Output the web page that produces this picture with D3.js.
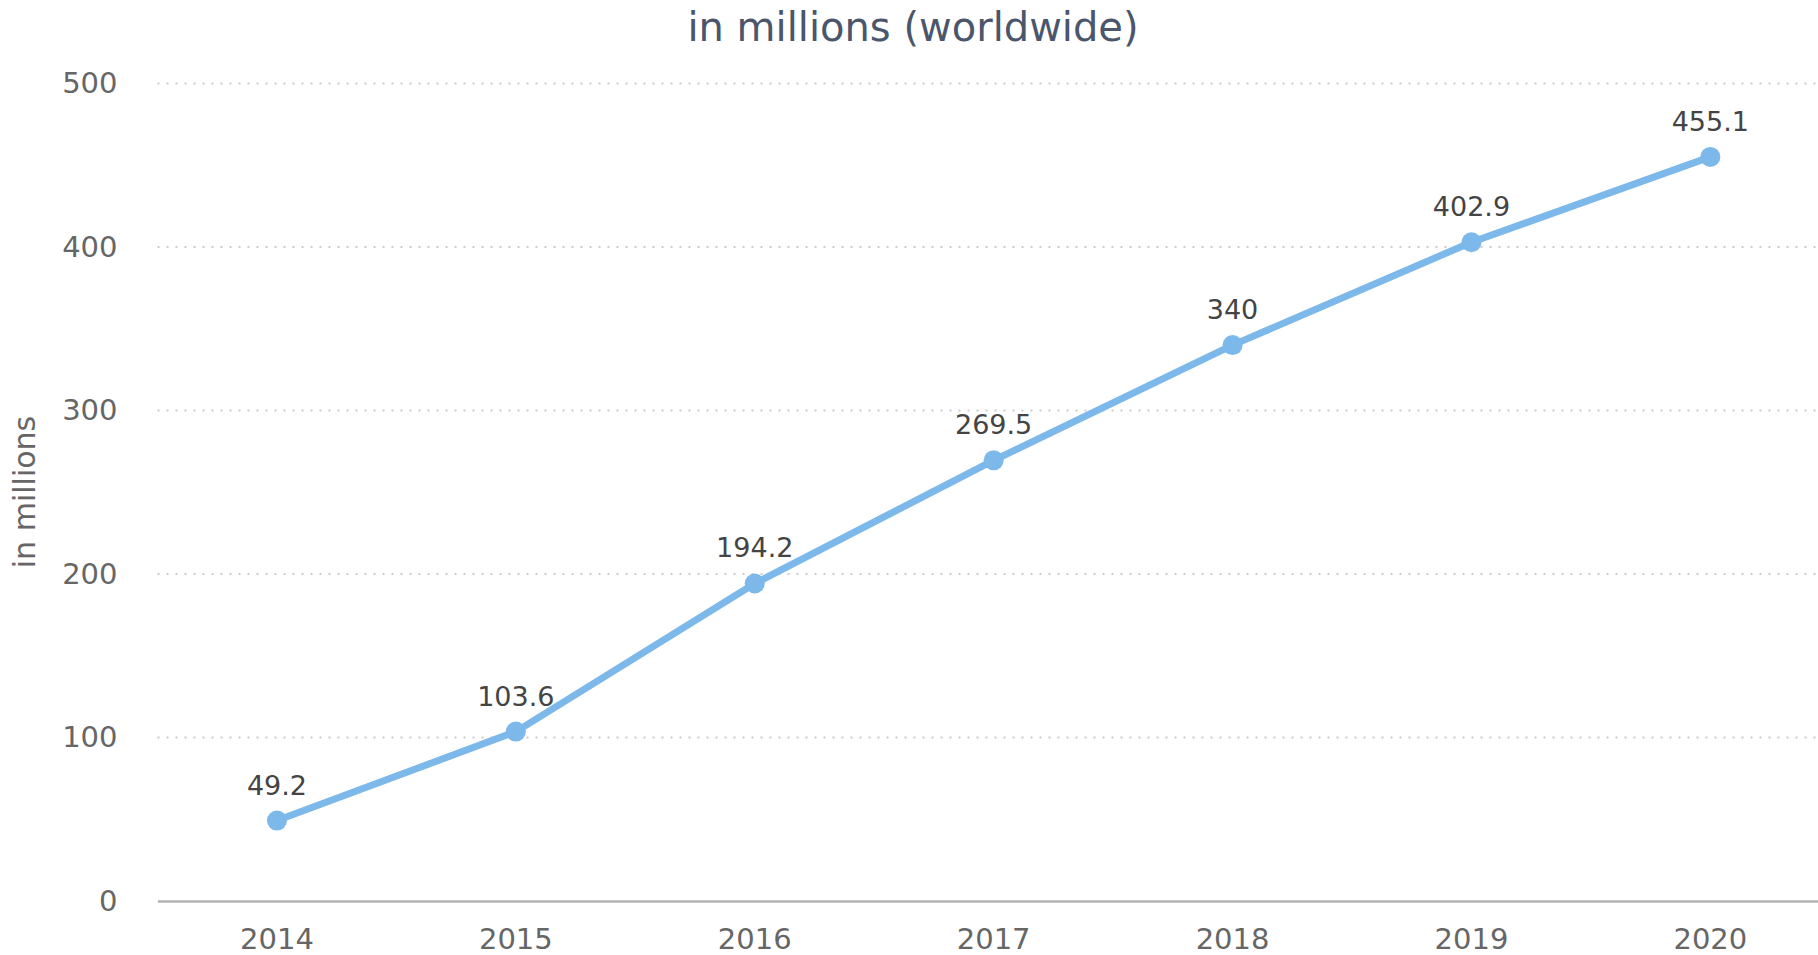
<!DOCTYPE html>
<html><head><meta charset="utf-8">
<script src="https://cdn.jsdelivr.net/npm/d3@7"></script>
<style>html,body{margin:0;padding:0;background:#fff;overflow:hidden}svg{display:block}</style>
</head><body>
<script>
const categories = ["2014","2015","2016","2017","2018","2019","2020"];
const values = [49.2, 103.6, 194.2, 269.5, 340, 402.9, 455.1];
const yTicks = [0, 100, 200, 300, 400, 500];
const titleText = "in millions (worldwide)";
const yAxisTitle = "in millions";

const W = 1818, H = 955;
const font = "'DejaVu Sans', sans-serif";
const svg = d3.select("body").append("svg").attr("width", W).attr("height", H);

const left = 157.5, step = 238.9;
const x = d3.scaleBand().domain(categories).range([left, left + step * categories.length]).padding(0);
const y = d3.scaleLinear().domain([0, 500]).range([901, 83.5]);
const cx = d => x(d) + x.bandwidth() / 2;

// gridlines
svg.append("g").selectAll("line").data(yTicks.filter(t => t > 0)).join("line")
  .attr("x1", left).attr("x2", W).attr("y1", d => y(d)).attr("y2", d => y(d))
  .attr("stroke", "#cccccc").attr("stroke-width", 2).attr("stroke-dasharray", "2,7");

// y axis
const ya = svg.append("g").attr("transform", `translate(${left - 40},0)`)
  .call(d3.axisLeft(y).tickValues(yTicks).tickSize(0).tickPadding(0));
ya.select(".domain").remove();
ya.selectAll("text").attr("font-family", font).attr("font-size", 29).attr("fill", "#666").attr("dy", "0.32em");

// x axis
const xa = svg.append("g").attr("transform", `translate(0,${y(0)})`)
  .call(d3.axisBottom(x).tickSize(0).tickPadding(0));
xa.select(".domain").attr("stroke", "#b3b3b3").attr("stroke-width", 2.5);
xa.selectAll("text").attr("font-family", font).attr("font-size", 29).attr("fill", "#666").attr("y", 48).attr("dy", 0);

// title
svg.append("text").attr("x", 913).attr("y", 41).attr("text-anchor", "middle")
  .attr("font-family", font).attr("font-size", 40).attr("fill", "#4b566c").text(titleText);

// y axis title
svg.append("text").attr("transform", "translate(35,492) rotate(-90)").attr("text-anchor", "middle")
  .attr("font-family", font).attr("font-size", 30).attr("fill", "#666").text(yAxisTitle);

const color = "#7cb9ea";
const data = categories.map((c, i) => ({c, v: values[i]}));
svg.append("path").datum(data)
  .attr("d", d3.line().x(d => cx(d.c)).y(d => y(d.v)))
  .attr("fill", "none").attr("stroke", color).attr("stroke-width", 7).attr("stroke-linejoin", "round");

svg.append("g").selectAll("circle").data(data).join("circle")
  .attr("cx", d => cx(d.c)).attr("cy", d => y(d.v)).attr("r", 10).attr("fill", color);

svg.append("g").selectAll("text").data(data).join("text")
  .attr("x", d => cx(d.c)).attr("y", d => y(d.v) - 26).attr("text-anchor", "middle")
  .attr("font-family", font).attr("font-size", 27).attr("fill", "#444")
  .text(d => String(d.v));
</script>
</body></html>
